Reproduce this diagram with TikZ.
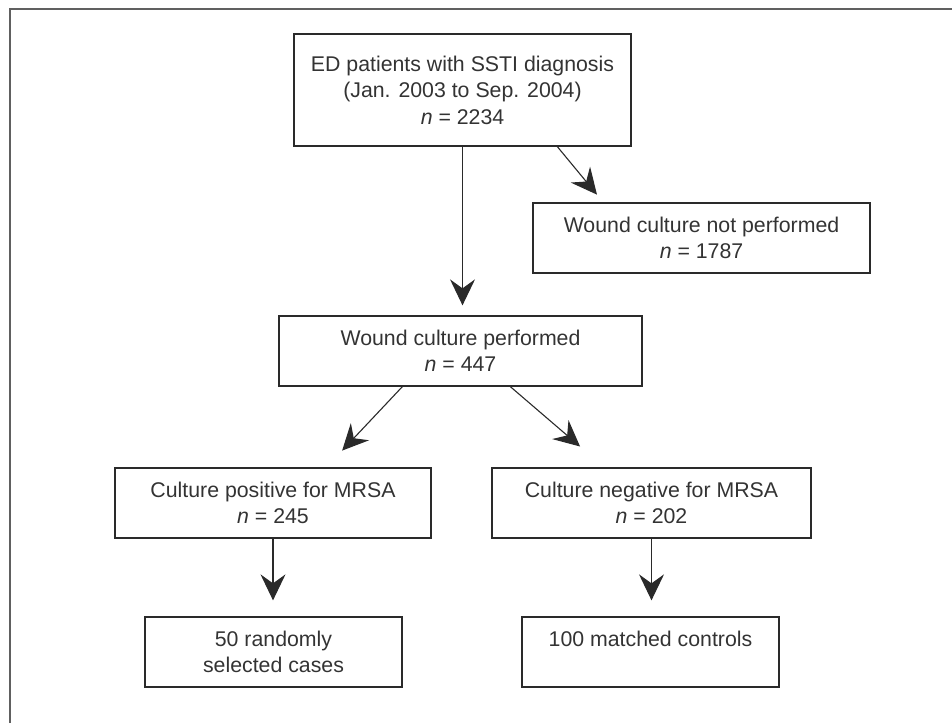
\documentclass[tikz,border=0pt]{standalone}
\usepackage{fontspec}
\setmainfont{Liberation Sans}
\usetikzlibrary{arrows.meta}
\definecolor{ink}{HTML}{2A2A2A}
\definecolor{txt}{HTML}{333333}
\begin{document}
\begin{tikzpicture}[x=1pt,y=-1pt,
  box/.style={draw=ink, line width=1.3pt, inner sep=0pt, align=center, text=txt,
    font=\fontsize{21.3}{26.5}\selectfont},
  flow/.style={draw=ink, line width=1.1pt, -{Stealth[length=26pt,width=25pt,inset=9pt]}}]
\useasboundingbox (0,0) rectangle (952,723);
\draw[gray!75!black, line width=2pt] (10,723) -- (10,9) -- (952,9);

\node[box, minimum width=337pt, minimum height=112pt] (A) at (462.5,90)
  {ED patients with SSTI diagnosis\\(Jan. 2003 to Sep. 2004)\\\textit{n} = 2234};
\node[box, minimum width=337pt, minimum height=70pt] (B) at (701.5,238)
  {Wound culture not performed\\\textit{n} = 1787};
\node[box, minimum width=363pt, minimum height=70pt] (C) at (460.5,351)
  {Wound culture performed\\\textit{n} = 447};
\node[box, minimum width=316pt, minimum height=70pt] (D) at (273,503)
  {Culture positive for MRSA\\\textit{n} = 245};
\node[box, minimum width=319pt, minimum height=70pt] (E) at (651.5,503)
  {Culture negative for MRSA\\\textit{n} = 202};
\node[box, minimum width=257pt, minimum height=70pt] (F) at (273.5,652)
  {50 randomly\\selected cases};
\node[box, minimum width=257pt, minimum height=70pt] (G) at (650.5,652)
  {100 matched controls\\\mbox{}};

\draw[flow, shorten >=10pt] (A.south) -- (A.south |- C.north);
\draw[flow, shorten >=10pt] ([xshift=264pt]A.south west) -- ([xshift=71pt]B.north west);
\draw[flow, shorten >=23pt] ([xshift=124pt]C.south west) -- ([xshift=212pt]D.north west);
\draw[flow, shorten >=32pt] ([xshift=232pt]C.south west) -- ([xshift=113pt]E.north west);
\draw[flow, shorten >=16pt] (D.south) -- (D.south |- F.north);
\draw[flow, shorten >=16pt] (E.south) -- (E.south |- G.north);
\end{tikzpicture}
\end{document}
